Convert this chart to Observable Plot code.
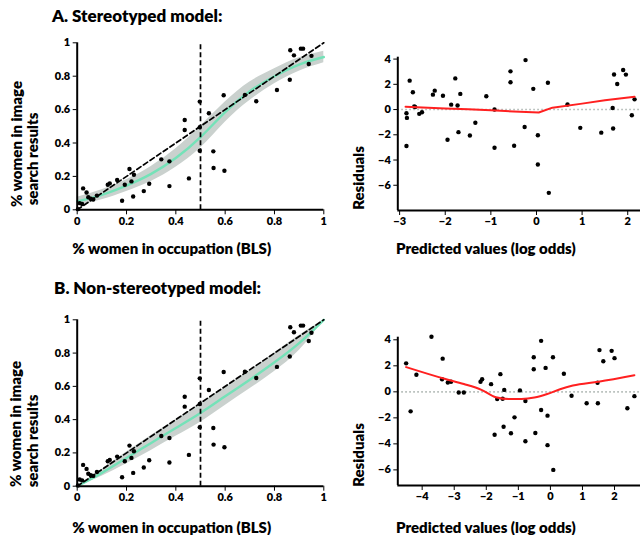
<!DOCTYPE html>
<html><head><meta charset="utf-8">
<script src="https://cdn.jsdelivr.net/npm/d3@7"></script>
<script src="https://cdn.jsdelivr.net/npm/@observablehq/plot@0.6"></script>
<style>
body{margin:0;background:#fff;}
#root{position:relative;width:640px;height:535px;font-family:Lato,"Open Sans",sans-serif;color:#000;overflow:hidden;background:#fff}
.t{position:absolute;white-space:nowrap;font-weight:800;line-height:1;font-size:15px;transform:translate(-50%,-50%)}
.t.r{transform:translate(-50%,-50%) rotate(-90deg)}
.title{position:absolute;white-space:nowrap;font-weight:800;font-size:17px;line-height:1;transform:translateY(-50%)}
</style></head><body><div id="root"></div>
<script>
// ---- Data ----
const blsShare = [0.003,0.01,0.02,0.024,0.038,0.045,0.055,0.065,0.08,0.124,0.132,0.162,0.182,0.193,0.212,0.22,0.23,0.227,0.27,0.292,0.341,0.374,0.374,0.436,0.436,0.453,0.497,0.497,0.497,0.534,0.552,0.553,0.594,0.597,0.68,0.726,0.81,0.862,0.864,0.879,0.907,0.916,0.939,0.95];
const imageShare = [0.004,0.04,0.035,0.128,0.104,0.075,0.066,0.062,0.085,0.15,0.158,0.178,0.054,0.15,0.244,0.17,0.21,0.08,0.112,0.156,0.302,0.29,0.142,0.538,0.478,0.188,0.494,0.648,0.354,0.578,0.35,0.25,0.686,0.234,0.688,0.65,0.717,0.779,0.955,0.925,0.965,0.965,0.873,0.922];

const fitX  = [0,0.1,0.2,0.3,0.4,0.5,0.6,0.7,0.8,0.9,1];
const fitA  = [0.05,0.09,0.145,0.215,0.31,0.435,0.585,0.71,0.80,0.87,0.915];
const loA   = [0.025,0.06,0.11,0.17,0.255,0.37,0.525,0.655,0.755,0.83,0.88];
const hiA   = [0.075,0.12,0.18,0.26,0.365,0.50,0.645,0.765,0.845,0.91,0.95];
const fitB  = [0,0.08,0.17,0.26,0.35,0.44,0.54,0.64,0.745,0.86,1];
const loB   = [0,0.06,0.135,0.215,0.30,0.385,0.485,0.585,0.69,0.815,1];
const hiB   = [0,0.10,0.205,0.305,0.40,0.495,0.595,0.695,0.80,0.905,1];
const diagX = [0,1];
const diagY = [0,1];
const cutoff = 0.5;

const predA  = [-2.85,-2.84,-2.78,-2.85,-2.71,-2.68,-2.57,-2.51,-2.27,-2.23,-2.05,-1.95,-1.87,-1.78,-1.73,-1.71,-1.67,-1.46,-1.34,-1.10,-0.92,-0.92,-0.57,-0.57,-0.49,-0.26,-0.24,-0.07,0.03,0.03,0.25,0.27,0.68,0.96,1.42,1.67,1.68,1.70,1.77,1.90,1.96,2.09,2.15,-2.66];
const residA = [-0.29,-0.66,2.29,-2.89,1.37,0.24,-0.34,-0.21,1.18,1.5,1.1,-2.39,0.39,2.47,0.32,-1.79,1.24,-2.05,-1.05,1.05,0.0,-3.03,3.03,2.16,-2.87,-1.38,3.92,1.64,-2.04,-4.36,2.12,-6.6,0.40,-1.45,-1.83,0.12,-1.5,2.78,2.03,3.14,2.77,-0.45,0.81,0.2];
const loessAx = [-2.87,-2,-1.5,-1,-0.5,0.05,0.35,1,1.5,2.15];
const loessAy = [0.22,0.08,0.02,-0.05,-0.15,-0.23,0.15,0.47,0.73,1.02];

const predB  = [-4.5,-4.36,-4.18,-3.71,-3.36,-3.38,-3.2,-3.1,-2.86,-2.7,-2.18,-2.13,-1.85,-1.74,-1.66,-1.56,-1.49,-1.46,-1.44,-1.23,-1.12,-0.95,-0.78,-0.78,-0.52,-0.52,-0.47,-0.29,-0.29,-0.15,-0.09,-0.09,0.08,0.09,0.42,0.66,1.13,1.47,1.48,1.53,1.65,1.91,2.0,2.4,2.62];
const residB = [2.19,-1.5,1.31,4.23,2.55,0.97,0.72,0.77,-0.05,-0.05,0.77,0.97,0.59,-3.3,-0.56,1.36,-0.53,-2.68,0.15,-3.18,-1.96,0.11,-0.7,-3.8,2.66,1.74,-3.16,3.92,-1.4,1.84,-1.83,-4.1,2.66,-6.0,1.39,-0.3,-0.88,0.7,-0.88,3.21,2.35,3.15,2.59,-1.26,-0.33];
const loessBx = [-4.5,-3.3,-2.7,-2.15,-1.7,-1.3,-0.9,-0.5,-0.1,0.3,0.7,1.5,2.62];
const loessBy = [1.9,1.0,0.6,0.15,-0.42,-0.56,-0.55,-0.44,-0.17,0.2,0.48,0.78,1.28];

const shareTicks = [0,0.2,0.4,0.6,0.8,1];
const residTicks = [-6,-4,-2,0,2,4];
const predTicksA = [-3,-2,-1,0,1,2];
const predTicksB = [-4,-3,-2,-1,0,1,2];

const titles = ["A. Stereotyped model:", "B. Non-stereotyped model:"];
const xLabelShare = "% women in occupation (BLS)";
const yLabelShare = ["% women in image", "search results"];
const xLabelPred = "Predicted values (log odds)";
const yLabelResid = "Residuals";

// ---- Build ----
const root = document.getElementById("root");
const fmt = d3.format("~g");
const green = "#74e2b8", band = "#cad1ce", red = "#ff2020";

const scatter = blsShare.map((x, i) => ({x, y: imageShare[i]}));
const diag = diagX.map((x, i) => ({x, y: diagY[i]}));
const fitRows = (fit, lo, hi) => fitX.map((x, i) => ({x, fit: fit[i], lo: lo[i], hi: hi[i]}));
const pts = (xs, ys) => xs.map((x, i) => ({x, y: ys[i]}));

function panel(o) {
  const svg = Plot.plot({
    width: o.w, height: o.h,
    marginLeft: o.px0 - o.left, marginRight: o.left + o.w - o.px1,
    marginTop: o.py1 - o.top, marginBottom: o.top + o.h - o.py0,
    style: {fontFamily: "Lato, 'Open Sans', sans-serif", fontSize: "11px", fontWeight: 800, color: "#000", background: "transparent", overflow: "visible"},
    x: {domain: o.xd, ticks: o.xt, tickSize: 5, tickPadding: 2, tickFormat: fmt, label: null},
    y: {domain: o.yd, ticks: o.yt, tickSize: 4, tickPadding: 3, tickFormat: fmt, label: null},
    marks: [
      ...o.marks,
      Plot.ruleX([o.xd[0]], {stroke: "#000", strokeWidth: 2}),
      Plot.ruleY([o.yd[0]], {stroke: "#000", strokeWidth: 2})
    ]
  });
  svg.style.position = "absolute";
  svg.style.left = o.left + "px";
  svg.style.top = o.top + "px";
  svg.style.maxWidth = "none";
  root.append(svg);
}

function shareMarks(rows) {
  return [
    Plot.areaY(rows, {x: "x", y1: "lo", y2: "hi", fill: band, curve: "natural"}),
    Plot.line(rows, {x: "x", y: "fit", stroke: green, strokeWidth: 2.4, curve: "natural"}),
    Plot.dot(scatter, {x: "x", y: "y", r: 2.2, fill: "#000", stroke: null}),
    Plot.line(diag, {x: "x", y: "y", stroke: "#000", strokeWidth: 1.7, strokeDasharray: "5,3"}),
    Plot.ruleX([cutoff], {y1: 0, y2: 1, stroke: "#000", strokeWidth: 1.7, strokeDasharray: "5,3"})
  ];
}
function residMarks(px, ry, lx, ly, curve) {
  return [
    Plot.ruleY([0], {stroke: "#aab3af", strokeWidth: 1.6, strokeDasharray: "1.5,2.5"}),
    Plot.dot(pts(px, ry), {x: "x", y: "y", r: 2.2, fill: "#000", stroke: null}),
    Plot.line(pts(lx, ly), {x: "x", y: "y", stroke: red, strokeWidth: 2, curve})
  ];
}

// Panel A left
panel({left: 0, top: 30, w: 340, h: 215, px0: 76.7, px1: 323.3, py0: 209.3, py1: 42.3,
  xd: [0, 1], yd: [0, 1], xt: shareTicks, yt: shareTicks, marks: shareMarks(fitRows(fitA, loA, hiA))});
// Panel A right
panel({left: 340, top: 30, w: 300, h: 215, px0: 397.3, px1: 640, py0: 210, py1: 56.7,
  xd: [-3.04, 2.28], yd: [-8, 4.15], xt: predTicksA, yt: residTicks, marks: residMarks(predA, residA, loessAx, loessAy, "linear")});
// Panel B left
panel({left: 0, top: 305, w: 340, h: 215, px0: 76.7, px1: 323.3, py0: 485.7, py1: 319.3,
  xd: [0, 1], yd: [0, 1], xt: shareTicks, yt: shareTicks, marks: shareMarks(fitRows(fitB, loB, hiB))});
// Panel B right
panel({left: 340, top: 305, w: 300, h: 215, px0: 397.3, px1: 640, py0: 485, py1: 336.7,
  xd: [-4.76, 2.81], yd: [-7.2, 4.2], xt: predTicksB, yt: residTicks, marks: residMarks(predB, residB, loessBx, loessBy, "monotone-x")});

function label(text, x, y, cls) {
  const d = document.createElement("div");
  d.className = cls;
  d.textContent = text;
  d.style.left = x + "px";
  d.style.top = y + "px";
  root.append(d);
}
label(titles[0], 52, 15, "title");
label(titles[1], 54, 287, "title");
label(xLabelShare, 171.7, 248.3, "t");
label(yLabelShare[0], 16, 143.5, "t r");
label(yLabelShare[1], 32, 159, "t r");
label(xLabelPred, 485.8, 248.3, "t");
label(yLabelResid, 358, 178, "t r");
label(xLabelShare, 171.7, 526.7, "t");
label(yLabelShare[0], 15, 424, "t r");
label(yLabelShare[1], 32, 441, "t r");
label(xLabelPred, 485.8, 526.7, "t");
label(yLabelResid, 358, 455, "t r");
</script>
</body></html>
